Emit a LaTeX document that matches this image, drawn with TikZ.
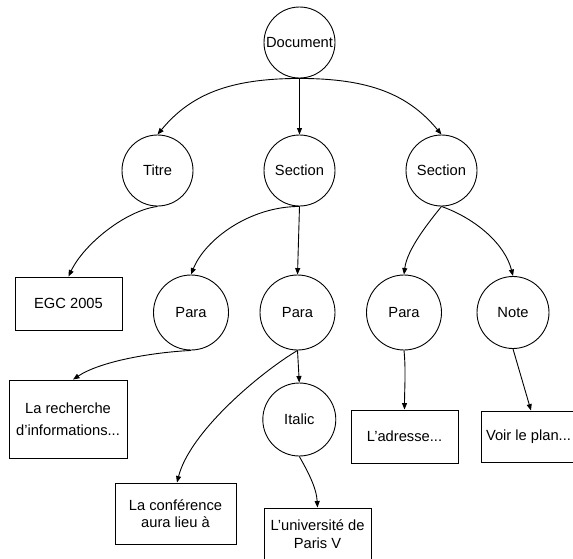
\documentclass[tikz,border=0pt]{standalone}
\usepackage{fontspec}
\setmainfont{Liberation Sans}
\usetikzlibrary{arrows.meta}
\begin{document}
\begin{tikzpicture}[x=1pt,y=-1pt,line width=0.9pt,
  every node/.style={font=\fontsize{14.7}{17.5}\selectfont},
  circnode/.style={circle,draw,inner sep=0pt,minimum size=#1},
  boxnode/.style={rectangle,draw,inner sep=0pt,align=center},
  conn/.style={-{Triangle[length=6.5pt,width=5pt]},line width=0.9pt}]
\useasboundingbox (0,0) rectangle (573,558);
% circles
\node[circnode=71pt] (doc) at (299.5,42.5) {Document};
\node[circnode=71pt] (titre) at (157.5,170.5) {Titre};
\node[circnode=71pt] (sec1) at (299.5,170.5) {Section};
\node[circnode=71pt] (sec2) at (441.5,170.5) {Section};
\node[circnode=75pt] (para1) at (191,312.5) {Para};
\node[circnode=75pt] (para2) at (297.5,312.5) {Para};
\node[circnode=75pt] (para3) at (404,312.5) {Para};
\node[circnode=72pt] (note) at (513,312.5) {Note};
\node[circnode=73pt] (italic) at (299.3,419.5) {Italic};
% boxes
\node[boxnode,minimum width=107pt,minimum height=53pt] (egc) at (68.5,303.5) {EGC 2005};
\node[boxnode,minimum width=118pt,minimum height=78pt,font=\fontsize{14.7}{21.5}\selectfont] (rech) at (68,419) {La recherche\\d'informations...};
\node[boxnode,minimum width=107pt,minimum height=53pt] (adr) at (404.5,436.5) {L'adresse...};
\node[boxnode,minimum width=107pt,minimum height=51pt] (voir) at (534.5,436.5) {\hspace*{-12pt}Voir le plan...};
\node[boxnode,minimum width=121pt,minimum height=61pt] (conf) at (175.5,513.5) {La conférence\\aura lieu à};
\node[boxnode,minimum width=107pt,minimum height=52pt] (univ) at (317.5,534) {L'université de\\Paris V};
% connectors
\draw[conn] (doc.south) .. controls +(-70,0) and +(33,-40) .. (titre.north);
\draw[conn] (doc.south) -- (sec1.north);
\draw[conn] (doc.south) .. controls +(70,0) and +(-33,-40) .. (sec2.north);
\draw[conn] (titre.south) .. controls +(-32,4) and +(15,-32) .. (egc.north);
\draw[conn] (sec1.south) .. controls +(-50,0) and +(14,-35) .. (para1.north);
\draw[conn] (sec1.south) -- (para2.north);
\draw[conn] (sec2.south) .. controls +(-13,16) and +(3,-25) .. (para3.north);
\draw[conn] (sec2.south) .. controls +(34,12) and +(-8,-32) .. (note.north);
\draw[conn] (para1.south) .. controls +(-40,2) and +(27,-18) .. ([xshift=5pt]rech.north);
\draw[conn] (para2.south) .. controls +(-37,22) and +(13,-51) .. ([xshift=1.5pt]conf.north);
\draw[conn] (para2.south) -- (italic.north);
\draw[conn] (italic.south) .. controls +(8,14) and +(-1,-20) .. (univ.north);
\draw[conn] (para3.south) .. controls +(2,20) and +(0,-20) .. (adr.north);
\draw[conn] (note.south) -- ([xshift=-3.5pt]voir.north);
\end{tikzpicture}
\end{document}
